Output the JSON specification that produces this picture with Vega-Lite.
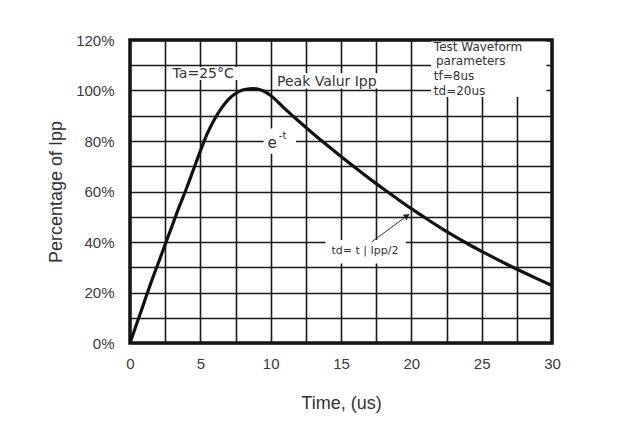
{
  "$schema": "https://vega.github.io/schema/vega-lite/v6.json",
  "autosize": "none",
  "width": 422,
  "height": 303,
  "padding": {"left": 130, "top": 40, "right": 69, "bottom": 90},
  "background": "white",
  "config": {
    "view": {"stroke": "#111", "strokeWidth": 3.5},
    "font": "Liberation Sans"
  },
  "datasets": {
    "curve": [
      {"t": 0, "p": 0}, {"t": 0.5, "p": 8}, {"t": 1, "p": 16}, {"t": 1.5, "p": 24},
      {"t": 2, "p": 31.5}, {"t": 2.5, "p": 39}, {"t": 3, "p": 46.5}, {"t": 3.5, "p": 54},
      {"t": 4, "p": 61}, {"t": 4.5, "p": 68.5}, {"t": 5, "p": 76}, {"t": 5.5, "p": 83},
      {"t": 6, "p": 88.5}, {"t": 6.5, "p": 93}, {"t": 7, "p": 96.5}, {"t": 7.5, "p": 98.8},
      {"t": 8, "p": 100.2}, {"t": 8.7, "p": 100.8}, {"t": 9.2, "p": 100.4}, {"t": 9.6, "p": 99.5},
      {"t": 10, "p": 98.0}, {"t": 11, "p": 92.8}, {"t": 12, "p": 87.8}, {"t": 13, "p": 83.0},
      {"t": 14, "p": 78.4}, {"t": 15, "p": 73.9}, {"t": 16, "p": 69.5}, {"t": 17, "p": 65.2},
      {"t": 18, "p": 61.1}, {"t": 19, "p": 57.1}, {"t": 20, "p": 53.2}, {"t": 21, "p": 49.5},
      {"t": 22, "p": 45.9}, {"t": 23, "p": 42.5}, {"t": 24, "p": 39.3}, {"t": 25, "p": 36.3},
      {"t": 26, "p": 33.4}, {"t": 27, "p": 30.6}, {"t": 28, "p": 27.9}, {"t": 29, "p": 25.3},
      {"t": 30, "p": 22.8}
    ],
    "masks": [
      {"t": 3.4, "t2": 8.4, "p": 104.2, "p2": 109.3},
      {"t": 10.3, "t2": 18.4, "p": 100.8, "p2": 106.8},
      {"t": 21.4, "t2": 29.6, "p": 97.4, "p2": 119.4},
      {"t": 9.5, "t2": 11.8, "p": 75, "p2": 85},
      {"t": 13.9, "t2": 19.6, "p": 31.5, "p2": 40.8}
    ]
  },
  "encoding": {
    "x": {
      "field": "t", "type": "quantitative",
      "scale": {"domain": [0, 30], "nice": false, "zero": false},
      "axis": {
        "values": [0, 2.5, 5, 7.5, 10, 12.5, 15, 17.5, 20, 22.5, 25, 27.5, 30],
        "labelExpr": "datum.value % 5 == 0 ? datum.label : ''",
        "title": "Time, (us)",
        "grid": true, "gridColor": "#1a1a1a", "gridWidth": 1.6, "gridOpacity": 1,
        "domain": false, "ticks": false, "tickSize": 0,
        "labelFontSize": 15, "labelColor": "#3a3a3a", "labelPadding": 13,
        "labelFlush": false,
        "titleFontSize": 18, "titleFontWeight": "normal", "titleColor": "#333", "titlePadding": 23
      }
    },
    "y": {
      "field": "p", "type": "quantitative",
      "scale": {"domain": [0, 120], "nice": false},
      "axis": {
        "values": [0, 10, 20, 30, 40, 50, 60, 70, 80, 90, 100, 110, 120],
        "labelExpr": "datum.value % 20 == 0 ? datum.value + '%' : ''",
        "title": "Percentage of Ipp",
        "grid": true, "gridColor": "#1a1a1a", "gridWidth": 1.6, "gridOpacity": 1,
        "domain": false, "ticks": false, "tickSize": 0,
        "labelFontSize": 15, "labelColor": "#3a3a3a", "labelPadding": 16,
        "titleFontSize": 18, "titleFontWeight": "normal", "titleColor": "#333", "titlePadding": 10
      }
    }
  },
  "layer": [
    {
      "data": {"name": "masks"},
      "mark": {"type": "rect", "fill": "white", "stroke": null},
      "encoding": {"x2": {"field": "t2"}, "y2": {"field": "p2"}}
    },
    {
      "data": {"name": "curve"},
      "mark": {"type": "line", "color": "#111", "strokeWidth": 3.2, "interpolate": "monotone"}
    },
    {
      "data": {"values": [{"t": 17.2, "p": 40.1, "t2": 19.7, "p2": 50.4}]},
      "mark": {"type": "rule", "color": "#333", "strokeWidth": 1},
      "encoding": {"x2": {"field": "t2"}, "y2": {"field": "p2"}}
    },
    {
      "data": {"values": [{"t": 19.7, "p": 50.4}]},
      "mark": {"type": "point", "shape": "triangle-up", "filled": true, "color": "#222", "size": 45, "angle": 54.6, "opacity": 1}
    },
    {
      "data": {"values": [{"t": 5.2, "p": 106.6, "label": "Ta=25°C"}]},
      "mark": {"type": "text", "fontSize": 14, "font": "DejaVu Sans", "color": "#333", "align": "center", "baseline": "middle"},
      "encoding": {"text": {"field": "label"}}
    },
    {
      "data": {"values": [{"t": 10.45, "p": 103.4, "label": "Peak Valur Ipp"}]},
      "mark": {"type": "text", "fontSize": 14, "font": "DejaVu Sans", "color": "#333", "align": "left", "baseline": "middle"},
      "encoding": {"text": {"field": "label"}}
    },
    {
      "data": {"values": [
        {"t": 21.6, "p": 117.2, "label": "Test Waveform"},
        {"t": 21.75, "p": 111.5, "label": "parameters"},
        {"t": 21.6, "p": 105.7, "label": "tf=8us"},
        {"t": 21.6, "p": 100.0, "label": "td=20us"}
      ]},
      "mark": {"type": "text", "fontSize": 12, "font": "DejaVu Sans", "color": "#333", "align": "left", "baseline": "middle"},
      "encoding": {"text": {"field": "label"}}
    },
    {
      "data": {"values": [{"t": 10.1, "p": 79.4, "label": "e"}]},
      "mark": {"type": "text", "fontSize": 15, "font": "DejaVu Sans", "color": "#333", "align": "center", "baseline": "middle"},
      "encoding": {"text": {"field": "label"}}
    },
    {
      "data": {"values": [{"t": 10.85, "p": 82.0, "label": "-t"}]},
      "mark": {"type": "text", "fontSize": 10, "font": "DejaVu Sans", "color": "#333", "align": "center", "baseline": "middle"},
      "encoding": {"text": {"field": "label"}}
    },
    {
      "data": {"values": [{"t": 16.7, "p": 36.6, "label": "td= t | Ipp/2"}]},
      "mark": {"type": "text", "fontSize": 11, "font": "DejaVu Sans", "color": "#333", "align": "center", "baseline": "middle"},
      "encoding": {"text": {"field": "label"}}
    }
  ]
}
